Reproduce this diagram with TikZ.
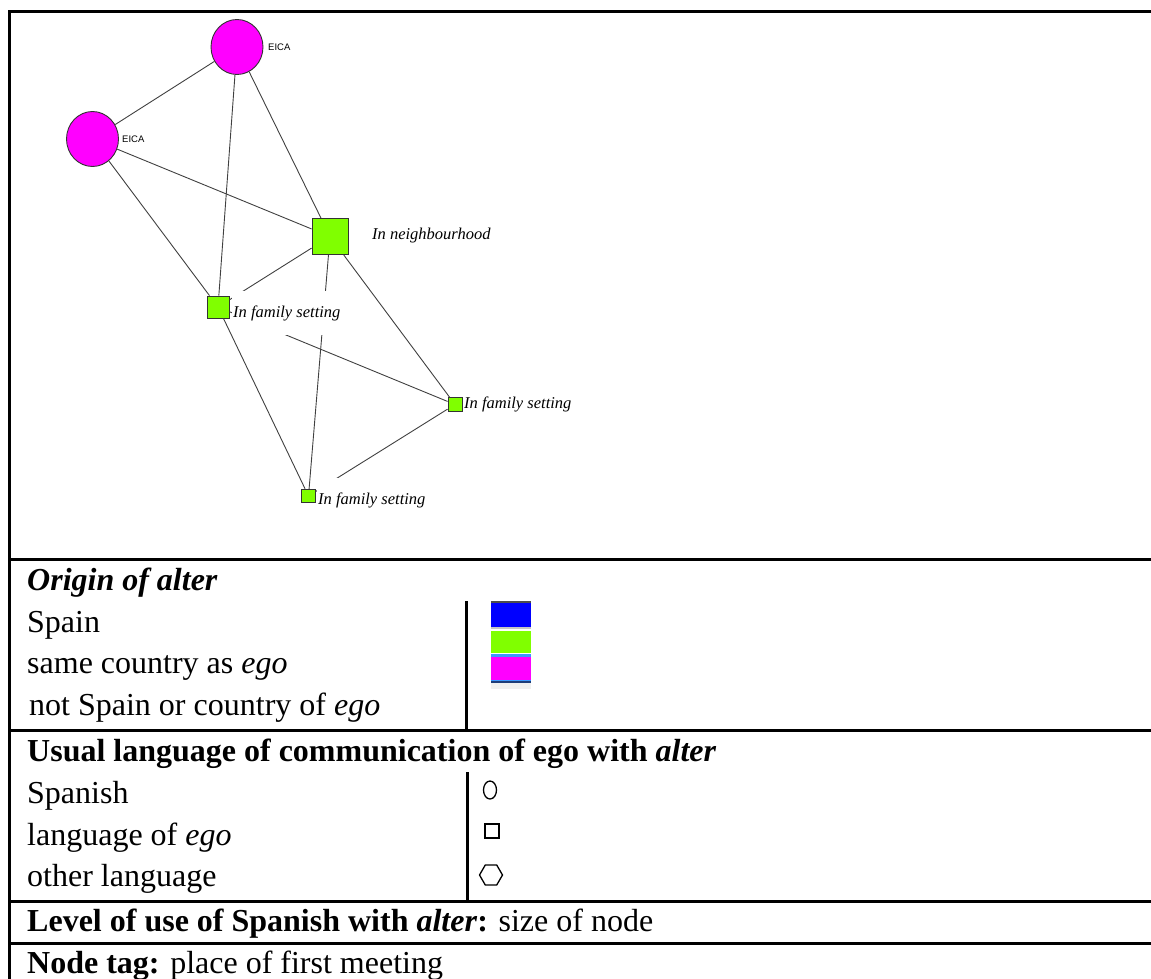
\documentclass[tikz,border=0pt]{standalone}
\usepackage{fontspec}
\setmainfont{Liberation Serif}
\newfontfamily\arialfont{Liberation Sans}
\usetikzlibrary{shapes.geometric}
\definecolor{nodegreen}{RGB}{128,255,0}
\definecolor{nodemag}{RGB}{255,0,255}
\definecolor{edgegray}{RGB}{64,64,64}
\definecolor{swblue}{RGB}{0,0,255}
\definecolor{swstripe}{RGB}{60,150,255}
\definecolor{swdark}{RGB}{30,60,120}
\begin{document}
\begin{tikzpicture}[x=1pt,y=-1pt,
  edge/.style={draw=edgegray,line width=0.9pt},
  alter/.style={draw=black!80,line width=0.9pt,inner sep=0pt},
  magcirc/.style={alter,ellipse,fill=nodemag,minimum width=52pt,minimum height=55pt},
  greensq/.style={alter,rectangle,fill=nodegreen},
  tag/.style={font=\fontsize{16.5}{18}\selectfont\itshape,fill=white,inner xsep=1pt,inner ysep=0pt,minimum height=44pt,anchor=west},
  eica/.style={font=\arialfont\fontsize{9.5}{11}\selectfont,inner sep=0pt,anchor=west},
  rule/.style={line width=3pt},
  ltext/.style={font=\fontsize{32}{36}\selectfont,inner sep=0pt,anchor=base west},
  legsym/.style={draw=black,line width=1.3pt,inner sep=0pt,fill=white},
]
\useasboundingbox (0,0) rectangle (1151,979);
% network nodes
\node[magcirc] (e1) at (237,47) {};
\node[magcirc] (e2) at (92.5,139) {};
\node[greensq,minimum size=36pt] (n1) at (330,236.5) {};
\node[greensq,minimum size=22pt] (f1) at (218,307) {};
\node[greensq,minimum size=14pt] (f2) at (455,404.5) {};
\node[greensq,minimum size=13.5pt] (f3) at (308.5,496) {};
% edges
\draw[edge] (e1) -- (e2);
\draw[edge] (e1) -- (f1);
\draw[edge] (e1) -- (n1);
\draw[edge] (e2) -- (n1);
\draw[edge] (e2) -- (f1);
\draw[edge] (n1) -- (f1);
\draw[edge] (n1) -- (f3);
\draw[edge] (n1) -- (f2);
\draw[edge] (f1) -- (f2);
\draw[edge] (f1) -- (f3);
\draw[edge] (f2) -- (f3);
% node tags
\node[eica] (l1) at (268,47) {EICA};
\node[eica] (l2) at (122,139) {EICA};
\node[tag] (t0) at (371,236) {In neighbourhood};
\node[tag] (t1) at (232,313) {In family setting};
\node[tag] (t2) at (463,404) {In family setting};
\node[tag] (t3) at (317,500) {In family setting};
% table rules
\draw[rule] (8,12) -- (1151,12);
\draw[rule] (9.5,10.5) -- (9.5,979);
\draw[rule] (8,559) -- (1151,559);
\draw[rule] (8,730) -- (1151,730);
\draw[rule] (8,901) -- (1151,901);
\draw[rule] (8,943) -- (1151,943);
\draw[rule] (466,601) -- (466,730);
\draw[rule] (467,772) -- (467,901);
% legend texts
\node[ltext] (h1) at (27,590) {\textbf{\textit{Origin of alter}}};
\node[ltext] (o1) at (27,632) {Spain};
\node[ltext] (o2) at (27,673) {same country as \textit{ego}};
\node[ltext] (o3) at (29,715) {not Spain or country of \textit{ego}};
\node[ltext] (h2) at (27,761) {\textbf{Usual language of communication of ego with \textit{alter}}};
\node[ltext] (g1) at (27,803) {Spanish};
\node[ltext] (g2) at (27,845) {language of \textit{ego}};
\node[ltext] (g3) at (27,886) {other language};
\node[ltext] (h3) at (27,931) {\textbf{Level of use of Spanish with \textit{alter}:} size of node};
\node[ltext] (h4) at (27,973) {\textbf{Node tag:} place of first meeting};
% colour swatches
\fill[black!70] (491,600.5) rectangle (531,602.5);
\fill[swblue] (491,602.5) rectangle (531,626.5);
\fill[gray!45] (491,626.5) rectangle (531,628.5);
\fill[nodegreen] (491,631) rectangle (531,653);
\fill[swstripe] (491,654) rectangle (531,656.5);
\fill[nodemag] (491,656.5) rectangle (531,680);
\fill[swstripe] (491,680) rectangle (531,681);
\fill[swdark] (491,681) rectangle (531,682.5);
\fill[gray!12] (491,682.5) rectangle (531,689);
% shape symbols
\node[legsym,ellipse,minimum width=13pt,minimum height=18pt] (s1) at (490,790) {};
\node[legsym,rectangle,minimum size=14pt] (s2) at (492,831) {};
\node[legsym,regular polygon,regular polygon sides=6,minimum size=23pt] (s3) at (491,875) {};
\end{tikzpicture}
\end{document}
